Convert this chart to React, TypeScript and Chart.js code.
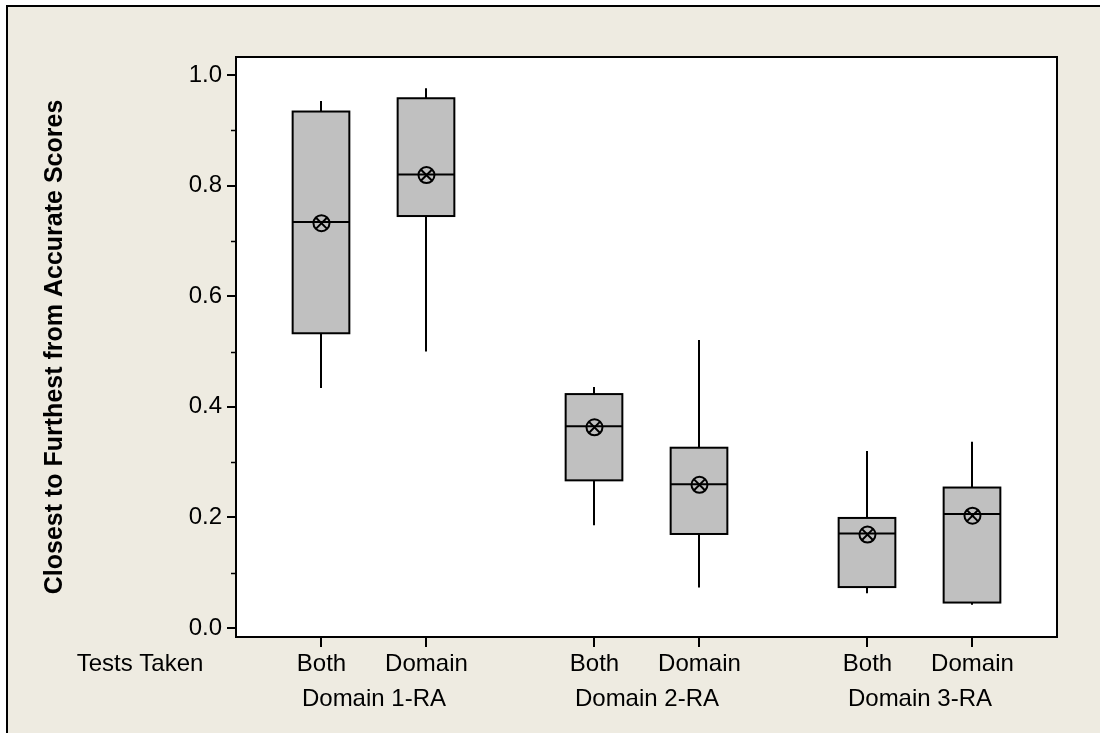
import React, { useEffect, useRef } from 'react';
import { Chart, registerables } from 'chart.js';

Chart.register(...registerables);

// ---------- data ----------
const GROUPS = ['Domain 1-RA', 'Domain 2-RA', 'Domain 3-RA'];
const TESTS = ['Both', 'Domain'];
const X_HEADER = 'Tests Taken';
const Y_TITLE = 'Closest to Furthest from Accurate Scores';

// one entry per box, in order: D1 Both, D1 Domain, D2 Both, D2 Domain, D3 Both, D3 Domain
const WHISKER_LOW = [0.434, 0.5, 0.186, 0.073, 0.063, 0.042];
const Q1 = [0.533, 0.745, 0.267, 0.17, 0.074, 0.046];
const MEDIAN = [0.734, 0.82, 0.365, 0.26, 0.171, 0.206];
const Q3 = [0.934, 0.958, 0.423, 0.326, 0.199, 0.254];
const WHISKER_HIGH = [0.953, 0.976, 0.436, 0.521, 0.32, 0.337];
const MEAN = [0.732, 0.819, 0.363, 0.259, 0.169, 0.203];

const Y_MAJOR = [0, 0.2, 0.4, 0.6, 0.8, 1.0];
const Y_MINOR = [0.1, 0.3, 0.5, 0.7, 0.9];

// ---------- layout / style ----------
const GROUP_STRIDE = 2.6;
const POS = GROUPS.flatMap((_, g) => TESTS.map((_, j) => g * GROUP_STRIDE + j));
const GROUP_POS = GROUPS.map((_, g) => g * GROUP_STRIDE + (TESTS.length - 1) / 2);
const X_MIN = -0.814;
const X_MAX = 7.005;
const Y_MIN = -0.0163;
const Y_MAX = 1.0326;
const BOX_W = 0.54;
const FONT = '"Liberation Sans", Arial, sans-serif';
const BG = '#EEEBE1';
const BOX_FILL = '#C0C0C0';

const boxPlugin = {
  id: 'boxPlugin',
  beforeDraw(chart: any) {
    const { ctx, width, height, chartArea: a } = chart;
    ctx.save();
    ctx.fillStyle = '#ffffff';
    ctx.fillRect(0, 0, width, height);
    ctx.fillStyle = BG;
    ctx.fillRect(7, 6, width, height);
    ctx.fillStyle = '#000';
    ctx.fillRect(6, 5, width, 2);
    ctx.fillRect(6, 5, 2, height);
    ctx.fillStyle = '#ffffff';
    ctx.fillRect(a.left, a.top, a.right - a.left, a.bottom - a.top);
    ctx.restore();
  },
  beforeDatasetsDraw(chart: any) {
    const { ctx } = chart;
    const xs = chart.scales.x;
    const ys = chart.scales.y;
    const half = (xs.getPixelForValue(BOX_W) - xs.getPixelForValue(0)) / 2;
    ctx.save();
    ctx.strokeStyle = '#000';
    ctx.lineWidth = 2;
    POS.forEach((p, i) => {
      const cx = Math.round(xs.getPixelForValue(p));
      const yl = ys.getPixelForValue(WHISKER_LOW[i]);
      const y1 = ys.getPixelForValue(Q1[i]);
      const ym = ys.getPixelForValue(MEDIAN[i]);
      const y3 = ys.getPixelForValue(Q3[i]);
      const yh = ys.getPixelForValue(WHISKER_HIGH[i]);
      ctx.beginPath();
      ctx.moveTo(cx, yl);
      ctx.lineTo(cx, y1);
      ctx.moveTo(cx, y3);
      ctx.lineTo(cx, yh);
      ctx.stroke();
      ctx.fillStyle = BOX_FILL;
      ctx.fillRect(cx - half, y3, half * 2, y1 - y3);
      ctx.strokeRect(cx - half, y3, half * 2, y1 - y3);
      ctx.beginPath();
      ctx.moveTo(cx - half, ym);
      ctx.lineTo(cx + half, ym);
      ctx.stroke();
    });
    ctx.restore();
  },
  afterDraw(chart: any) {
    const { ctx, chartArea: a } = chart;
    const ys = chart.scales.y;
    const xs = chart.scales.x;
    ctx.save();
    ctx.strokeStyle = '#000';
    ctx.lineWidth = 1.5;
    Y_MINOR.forEach((v) => {
      const py = Math.round(ys.getPixelForValue(v)) + 0.5;
      ctx.beginPath();
      ctx.moveTo(a.left - 5, py);
      ctx.lineTo(a.left, py);
      ctx.stroke();
    });
    ctx.lineWidth = 2;
    ctx.strokeRect(a.left, a.top, a.right - a.left, a.bottom - a.top);
    ctx.fillStyle = '#000';
    ctx.font = `24px ${FONT}`;
    ctx.textAlign = 'center';
    ctx.textBaseline = 'middle';
    ctx.fillText(X_HEADER, a.left - 96, xs.top + 10 + 3 + 14.4);
    ctx.restore();
  },
};

export default function App() {
  const ref = useRef<HTMLCanvasElement | null>(null);
  useEffect(() => {
    if (!ref.current) return;
    const tickFont = { family: FONT, size: 24 };
    const chart = new Chart(ref.current, {
      type: 'scatter',
      data: {
        datasets: [
          {
            data: POS.map((p, i) => ({ x: p, y: MEAN[i] })),
            pointStyle: 'circle',
            radius: 8,
            borderColor: '#000',
            borderWidth: 2,
            backgroundColor: 'rgba(0,0,0,0)',
          },
          {
            data: POS.map((p, i) => ({ x: p, y: MEAN[i] })),
            pointStyle: 'crossRot',
            radius: 8,
            borderColor: '#000',
            borderWidth: 2,
            backgroundColor: 'rgba(0,0,0,0)',
          },
        ],
      },
      options: {
        animation: false,
        responsive: false,
        devicePixelRatio: 1,
        events: [],
        layout: { padding: { left: 0, right: 43, top: 57, bottom: 0 } },
        plugins: { legend: { display: false }, tooltip: { enabled: false } },
        scales: {
          x: {
            type: 'linear',
            position: 'bottom',
            weight: 0,
            min: X_MIN,
            max: X_MAX,
            border: { display: false },
            grid: { display: true, drawOnChartArea: false, drawTicks: true, tickLength: 10, color: '#000', lineWidth: 2 },
            ticks: {
              color: '#000',
              font: tickFont,
              padding: 3,
              maxRotation: 0,
              autoSkip: false,
              callback: (_v: any, i: number) => TESTS[i % TESTS.length],
            },
            afterBuildTicks: (s: any) => {
              s.ticks = POS.map((v) => ({ value: v }));
            },
            afterFit: (s: any) => {
              s.height = 34;
            },
          },
          x2: {
            type: 'linear',
            position: 'bottom',
            weight: 1,
            min: X_MIN,
            max: X_MAX,
            border: { display: false },
            grid: { display: false, drawTicks: false },
            ticks: {
              color: '#000',
              font: tickFont,
              padding: 14,
              maxRotation: 0,
              autoSkip: false,
              callback: (_v: any, i: number) => GROUPS[i],
            },
            afterBuildTicks: (s: any) => {
              s.ticks = GROUP_POS.map((v) => ({ value: v }));
            },
            afterFit: (s: any) => {
              s.height = 62;
            },
          },
          y: {
            type: 'linear',
            min: Y_MIN,
            max: Y_MAX,
            border: { display: false },
            grid: { display: true, drawOnChartArea: false, drawTicks: true, tickLength: 9, color: '#000', lineWidth: 2 },
            ticks: {
              color: '#000',
              font: tickFont,
              padding: 5,
              callback: (v: any) => Number(v).toFixed(1),
            },
            afterBuildTicks: (s: any) => {
              s.ticks = Y_MAJOR.map((v) => ({ value: v }));
            },
            afterFit: (s: any) => {
              s.width = 236;
            },
            title: {
              display: true,
              text: Y_TITLE,
              color: '#000',
              font: { family: FONT, size: 25, weight: 'bold' },
              padding: { top: 40, bottom: 0 },
            },
          },
        },
      } as any,
      plugins: [boxPlugin],
    });
    return () => chart.destroy();
  }, []);

  return (
    <div style={{ position: 'fixed', left: 0, top: 0, width: 1100, height: 733 }}>
      <canvas ref={ref} width={1100} height={733} style={{ display: 'block', width: 1100, height: 733 }} />
    </div>
  );
}
